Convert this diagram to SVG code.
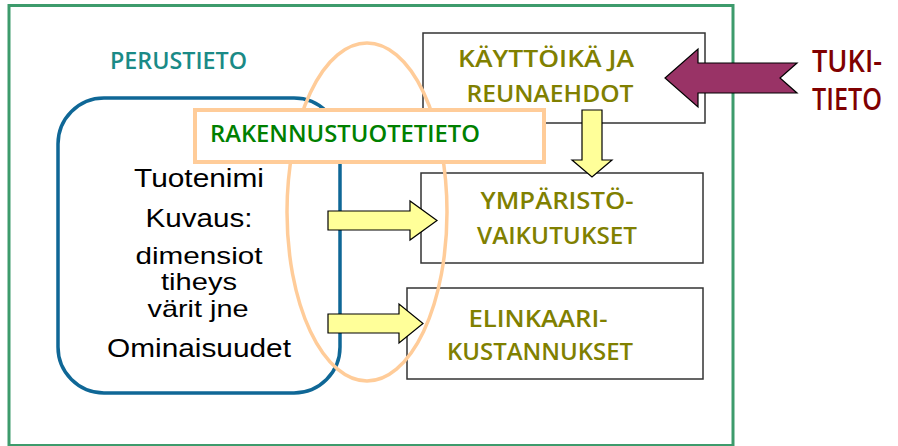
<svg xmlns="http://www.w3.org/2000/svg" width="898" height="446" viewBox="0 0 898 446">
  <style>
    .lbl { font-family: "Open Sans", "Liberation Sans", sans-serif; font-weight: 600; }
    .olive { fill: #808000; font-size: 23px; }
    .plain { font-family: "Liberation Sans", Arial, sans-serif; font-size: 26px; fill: #000; }
    .tight { font-size: 24px; }
    .box { fill: #fff; stroke: #333; stroke-width: 1.5; }
    .yarrow { fill: #ffff99; stroke: #000; stroke-width: 1.2; stroke-linejoin: miter; }
  </style>
  <rect width="898" height="446" fill="#fff"/>

  <!-- outer frame -->
  <g id="frame">
    <rect x="9" y="5.5" width="724" height="440" fill="none" stroke="#3d9b6c" stroke-width="3"/>
    <text class="lbl" x="110" y="69" font-size="24" fill="#1a8a86" textLength="137" lengthAdjust="spacingAndGlyphs">PERUSTIETO</text>
  </g>

  <!-- basic product data -->
  <g id="perustieto">
    <rect x="58" y="98" width="282" height="295" rx="46" ry="46" fill="none" stroke="#0f6796" stroke-width="3.5"/>
    <g class="plain" text-anchor="middle">
      <text x="199" y="187" textLength="130" lengthAdjust="spacingAndGlyphs">Tuotenimi</text>
      <text x="199" y="227" textLength="107" lengthAdjust="spacingAndGlyphs">Kuvaus:</text>
      <text class="tight" x="199" y="264" textLength="127" lengthAdjust="spacingAndGlyphs">dimensiot</text>
      <text class="tight" x="199" y="290" textLength="76" lengthAdjust="spacingAndGlyphs">tiheys</text>
      <text class="tight" x="198" y="317" textLength="101" lengthAdjust="spacingAndGlyphs">värit jne</text>
      <text x="199" y="357" textLength="184" lengthAdjust="spacingAndGlyphs">Ominaisuudet</text>
    </g>
  </g>

  <g id="kayttoika">
    <rect class="box" x="423" y="33" width="282" height="90"/>
    <g class="lbl olive" text-anchor="middle">
      <text x="546" y="67" textLength="176" lengthAdjust="spacingAndGlyphs">KÄYTTÖIKÄ JA</text>
      <text x="550" y="102" textLength="167" lengthAdjust="spacingAndGlyphs">REUNAEHDOT</text>
    </g>
  </g>

  <g id="ymparisto">
    <rect class="box" x="421" y="173" width="282" height="90"/>
    <g class="lbl olive" text-anchor="middle">
      <text x="557" y="209" textLength="153" lengthAdjust="spacingAndGlyphs">YMPÄRISTÖ-</text>
      <text x="557" y="244" textLength="160" lengthAdjust="spacingAndGlyphs">VAIKUTUKSET</text>
    </g>
  </g>

  <g id="elinkaari">
    <rect class="box" x="407" y="288" width="296" height="91"/>
    <g class="lbl olive" text-anchor="middle">
      <text x="538" y="327" textLength="139" lengthAdjust="spacingAndGlyphs">ELINKAARI-</text>
      <text x="540" y="360" textLength="186" lengthAdjust="spacingAndGlyphs">KUSTANNUKSET</text>
    </g>
  </g>

  <!-- product data ellipse, drawn over the boxes -->
  <g id="rakennustuotetieto-ellipse">
    <ellipse cx="367" cy="212" rx="80" ry="169" fill="none" stroke="#ffcc99" stroke-width="3.5"/>
  </g>

  <g id="rakennustuotetieto">
    <rect x="195" y="110" width="349" height="52" fill="#fff" stroke="#ffcc99" stroke-width="4"/>
    <text class="lbl" x="210" y="142" font-size="23" fill="#008000" textLength="270" lengthAdjust="spacingAndGlyphs">RAKENNUSTUOTETIETO</text>
  </g>

  <g id="tukitieto">
    <g class="lbl" fill="#800000" font-size="30">
      <text x="812" y="72" textLength="70" lengthAdjust="spacingAndGlyphs">TUKI-</text>
      <text x="812" y="110" textLength="70" lengthAdjust="spacingAndGlyphs">TIETO</text>
    </g>
  </g>

  <!-- connectors -->
  <g id="connectors">
    <polygon class="yarrow" points="328,211 410,211 410,201 437,220.5 410,240 410,230 328,230"/>
    <polygon class="yarrow" points="328,314 399,314 399,304 423,323.5 399,343 399,333 328,333"/>
    <polygon class="yarrow" points="582,110 602,110 602,160 612,160 592,177 572,160 582,160"/>
    <polygon points="797,63 698,63 698,49 665,78 698,107 698,93 797,93 780,78" fill="#993366" stroke="#000" stroke-width="1.2"/>
  </g>
</svg>
